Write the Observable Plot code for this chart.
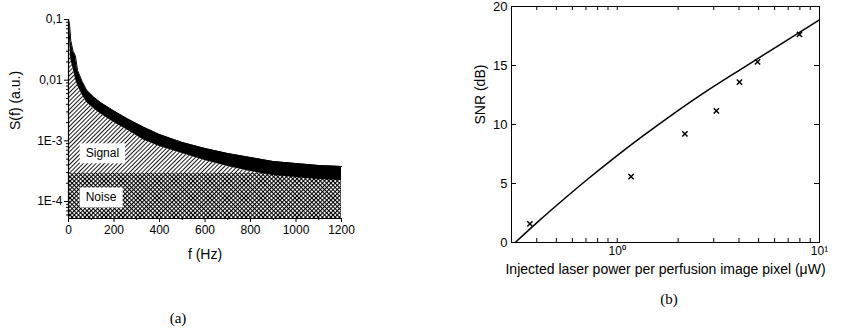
<!DOCTYPE html>
<html><head><meta charset="utf-8">
<script src="https://cdn.jsdelivr.net/npm/d3@7"></script>
<script src="https://cdn.jsdelivr.net/npm/@observablehq/plot@0.6"></script>
<style>
body{margin:0;background:#fff;width:863px;height:331px;position:relative;overflow:hidden;font-family:"Liberation Sans",Arial,sans-serif}
#pa{position:absolute;left:0;top:0}
#pb{position:absolute;left:400px;top:0}
.cap{position:absolute;font-family:"Liberation Serif","DejaVu Serif",serif;font-size:15px;transform:translate(-50%,-50%);white-space:nowrap}
</style></head><body>
<svg width="0" height="0" style="position:absolute"><defs>
<pattern id="diag" patternUnits="userSpaceOnUse" width="3" height="3" patternTransform="rotate(45)">
<rect width="3" height="3" fill="#fff"/><line x1="0.5" y1="0" x2="0.5" y2="3" stroke="#000" stroke-width="0.9"/></pattern>
<pattern id="cross" patternUnits="userSpaceOnUse" width="3" height="3" patternTransform="rotate(45)">
<rect width="3" height="3" fill="#fff"/><line x1="0.5" y1="0" x2="0.5" y2="3" stroke="#000" stroke-width="1.1"/><line x1="0" y1="0.5" x2="3" y2="0.5" stroke="#000" stroke-width="1.1"/></pattern>
</defs></svg>
<div id="pa"></div>
<div id="pb"></div>
<div class="cap" style="left:178px;top:318px">(a)</div>
<div class="cap" style="left:669px;top:299px">(b)</div>
<script>
// ---- Panel (a): spectrum ----
const freqHz = [0,5,10,20,30,40,60,80,110,140,200,260,330,400,500,600,700,800,900,1000,1100,1200];
const upperS = [0.1,0.08,0.045,0.03,0.0255,0.0145,0.0095,0.0068,0.0053,0.0043,0.0031,0.0023,0.00168,0.00127,0.00094,0.000748,0.000618,0.000531,0.000456,0.000423,0.000392,0.000378];
const lowerS = [0.066,0.045,0.022,0.0156,0.0107,0.0082,0.0057,0.0043,0.0034,0.0028,0.0020,0.0015,0.00103,0.000807,0.000618,0.000474,0.000378,0.000313,0.000269,0.000249,0.000231,0.000222];
const noiseLevel = 2.9e-4;
const sMin = 5.25e-5, sMax = 0.1;
const yDecades = [0.1, 0.01, 0.001, 0.0001];
const yDecadeLabels = ["0,1", "0,01", "1E-3", "1E-4"];
const fTicks = [0,200,400,600,800,1000,1200];
const fMinor = [100,300,500,700,900,1100];
const regionLabels = ["Signal", "Noise"];
const regionLabelF = [149, 143];
const regionLabelS = [6.2e-4, 1.16e-4];
const fLabel = "f (Hz)";
const sLabel = "S(f) (a.u.)";

// ---- Panel (b): SNR ----
const powerUW = [0.37, 1.17, 2.16, 3.09, 4.02, 4.94, 7.96];
const snrDb = [1.58, 5.59, 9.21, 11.16, 13.59, 15.31, 17.63];
const fitPowerUW = [0.313, 0.406, 0.553, 0.718, 0.977, 1.30, 1.73, 2.58, 4.06, 6.41, 10];
const fitSnrDb = [0, 1.77, 3.77, 5.40, 7.24, 8.87, 10.42, 12.49, 14.65, 16.80, 18.87];
const pTicks = [1, 10];
const pTickLabels = ["10⁰", "10¹"];
const pMinor = [0.3,0.4,0.5,0.6,0.7,0.8,0.9,2,3,4,5,6,7,8,9];
const snrTicks = [0,5,10,15,20];
const pLabel = "Injected laser power per perfusion image pixel (μW)";
const snrLabel = "SNR (dB)";

// minor log ticks for S axis
const sMinor = [];
for (let e = -5; e <= -2; e++) for (let m = 2; m <= 9; m++) { const v = m * Math.pow(10, e); if (v >= sMin && v <= sMax) sMinor.push(v); }

const spec = freqHz.map((f, i) => ({f, up: upperS[i], lo: lowerS[i], sig: Math.max(lowerS[i], noiseLevel)}));
const regions = regionLabels.map((t, i) => ({t, f: regionLabelF[i], s: regionLabelS[i]}));

const baseStyle = {fontFamily: '"Liberation Sans", Arial, sans-serif', fontSize: "12px", color: "#000", background: "#fff", overflow: "visible"};

const plotA = Plot.plot({
  width: 360, height: 280,
  marginLeft: 68, marginRight: 19, marginTop: 19, marginBottom: 62,
  style: baseStyle,
  x: {domain: [0, 1200]},
  y: {type: "log", domain: [sMin, sMax]},
  marks: [
    Plot.areaY([0, 1200], {x: d => d, y1: sMin, y2: noiseLevel, fill: "url(#cross)"}),
    Plot.areaY(spec, {x: "f", y1: noiseLevel, y2: "sig", fill: "url(#diag)"}),
    Plot.areaY(spec, {x: "f", y1: "lo", y2: "up", fill: "#000"}),
    Plot.line(spec, {x: "f", y: "up", stroke: "#000", strokeWidth: 1}),
    Plot.text(regions, {x: "f", y: "s", text: "t", fontSize: 12, fill: "#000"}),
    Plot.ruleX([0], {stroke: "#000", strokeWidth: 1.2}),
    Plot.ruleY([sMin], {stroke: "#000", strokeWidth: 1.2}),
    Plot.axisY({ticks: yDecades, tickFormat: (d) => yDecadeLabels[yDecades.indexOf(d)], tickSize: 4, tickPadding: 2, label: null, fontSize: 12}),
    Plot.axisY({ticks: sMinor, tickFormat: () => "", tickSize: 2, label: null}),
    Plot.axisX({ticks: fTicks, tickFormat: (d) => String(d), tickSize: 4, tickPadding: 3, label: null, fontSize: 12}),
    Plot.axisX({ticks: fMinor, tickFormat: () => "", tickSize: 2, label: null}),
    Plot.text([fLabel], {frameAnchor: "bottom", dy: 40, text: d => d, fontSize: 14}),
    Plot.text([sLabel], {frameAnchor: "left", dx: -53, dy: 11, text: d => d, rotate: -90, fontSize: 14})
  ]
});
document.getElementById("pa").appendChild(plotA);

// white boxes behind region labels
d3.select(plotA).selectAll("text").filter(function() { return regionLabels.includes(this.textContent); }).each(function() {
  const bb = this.getBBox();
  const padX = 6, padY = 3;
  const r = document.createElementNS("http://www.w3.org/2000/svg", "rect");
  r.setAttribute("x", bb.x - padX); r.setAttribute("y", bb.y - padY);
  r.setAttribute("width", bb.width + 2 * padX); r.setAttribute("height", bb.height + 2 * padY);
  r.setAttribute("fill", "#fff");
  const tr = this.getAttribute("transform"); if (tr) r.setAttribute("transform", tr);
  this.parentNode.insertBefore(r, this);
});

const pts = powerUW.map((p, i) => ({p, s: snrDb[i]}));
const fit = fitPowerUW.map((p, i) => ({p, s: fitSnrDb[i]}));
const W = 463 - 111 - 44, H = 290 - 6 - 48;

const plotB = Plot.plot({
  width: 463, height: 290,
  marginLeft: 111, marginRight: 44, marginTop: 6, marginBottom: 48,
  style: baseStyle,
  x: {type: "log", domain: [0.3, 10]},
  y: {domain: [0, 20]},
  marks: [
    Plot.frame({stroke: "#000", strokeWidth: 1}),
    Plot.tickX(pTicks.concat(pMinor), {x: d => d, insetTop: H - 4, stroke: "#000"}),
    Plot.tickX(pTicks.concat(pMinor), {x: d => d, insetBottom: H - 4, stroke: "#000"}),
    Plot.tickY(snrTicks, {y: d => d, insetRight: W - 5, stroke: "#000"}),
    Plot.tickY(snrTicks, {y: d => d, insetLeft: W - 5, stroke: "#000"}),
    Plot.line(fit, {x: "p", y: "s", stroke: "#000", strokeWidth: 1.5, curve: "natural"}),
    Plot.dot(pts, {x: "p", y: "s", symbol: "times", r: 2.5, stroke: "#000", strokeWidth: 1.5}),
    Plot.axisY({ticks: snrTicks, tickSize: 0, tickPadding: 4, label: null, fontSize: 13}),
    Plot.axisX({ticks: pTicks, tickFormat: (d) => pTickLabels[pTicks.indexOf(d)], tickSize: 0, tickPadding: 4, label: null, fontSize: 12}),
    Plot.text([pLabel], {frameAnchor: "bottom", dy: 31, text: d => d, fontSize: 14}),
    Plot.text([snrLabel], {frameAnchor: "left", dx: -31, text: d => d, rotate: -90, fontSize: 14})
  ]
});
document.getElementById("pb").appendChild(plotB);
</script>
</body></html>
